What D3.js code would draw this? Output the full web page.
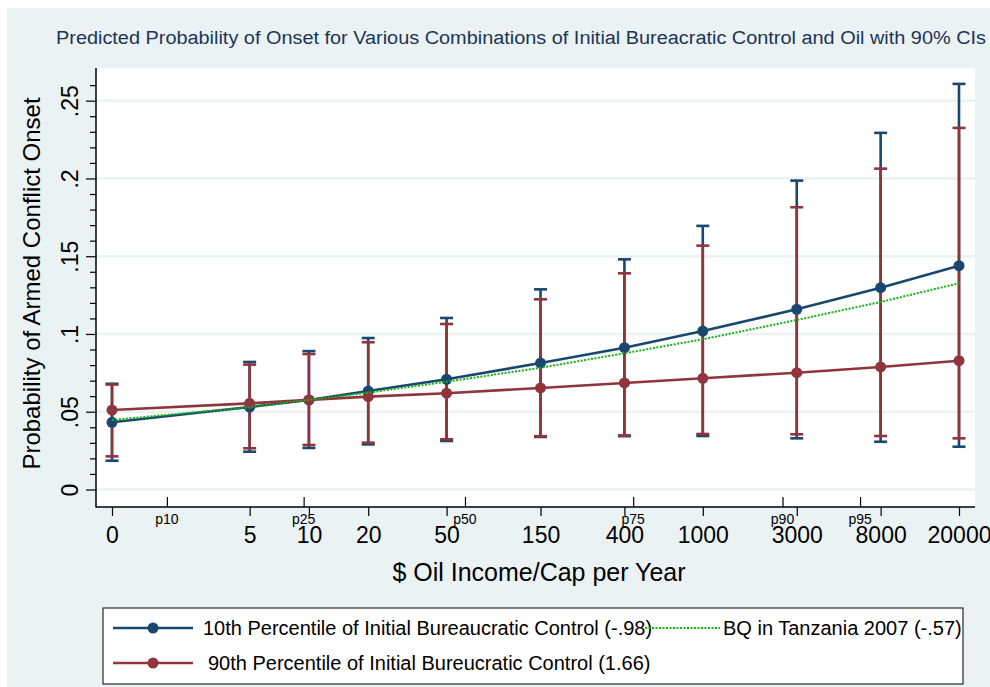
<!DOCTYPE html>
<html>
<head>
<meta charset="utf-8">
<script src="https://cdn.jsdelivr.net/npm/d3@7"></script>
<style>
  body { margin: 0; background: #fff; }
  svg text { font-family: "Liberation Sans", Arial, sans-serif; }
</style>
</head>
<body>
<div id="chart"></div>
<script>
// oil income levels (x categories); Stata plots ln(oil), with 0 drawn at ln(1)
const oilValues = [0, 5, 10, 20, 50, 150, 400, 1000, 3000, 8000, 20000]
const oilLabels = ["0", "5", "10", "20", "50", "150", "400", "1000", "3000", "8000", "20000"]

// 10th percentile of initial bureaucratic control
const lowBQ = [0.0432, 0.053, 0.0576, 0.0633, 0.0709, 0.0813, 0.0912, 0.1019, 0.1159, 0.1298, 0.1439]
const lowBQUpper = [0.068, 0.082, 0.089, 0.0974, 0.1103, 0.1287, 0.148, 0.1695, 0.1986, 0.2293, 0.2608]
const lowBQLower = [0.0185, 0.0243, 0.0267, 0.029, 0.0312, 0.0338, 0.0343, 0.0344, 0.0329, 0.0307, 0.0275]

// 90th percentile of initial bureaucratic control
const highBQ = [0.0511, 0.0554, 0.0576, 0.0597, 0.0619, 0.0653, 0.0685, 0.0715, 0.0751, 0.0788, 0.0828]
const highBQUpper = [0.0675, 0.0803, 0.0871, 0.0947, 0.1064, 0.1223, 0.139, 0.1568, 0.1815, 0.2063, 0.2325]
const highBQLower = [0.0213, 0.0265, 0.0286, 0.0301, 0.0323, 0.0343, 0.0348, 0.0357, 0.0355, 0.0344, 0.0329]

// BQ in Tanzania 2007
const tanzania = [0.0447, 0.0529, 0.0576, 0.0623, 0.0693, 0.0783, 0.0876, 0.0966, 0.109, 0.1206, 0.1326]

// percentile markers of oil income along the x axis
const pctValues = [1.9, 9.4, 62, 443, 2540, 6290]
const pctLabels = ["p10", "p25", "p50", "p75", "p90", "p95"]

const yTicks = [0, 0.05, 0.1, 0.15, 0.2, 0.25]
const yTickLabels = ["0", ".05", ".1", ".15", ".2", ".25"]
const yMinorTicks = d3.range(1, 27).map(d => d / 100).filter(d => d % 0.05 > 0.001 && d % 0.05 < 0.049)

const legendLabels = [
  "10th Percentile of Initial Bureaucratic Control (-.98)",
  "90th Percentile of Initial Bureucratic Control (1.66)",
  "BQ in Tanzania 2007 (-.57)",
]

const W = 990, H = 687
const PLOT = { left: 96, right: 975, top: 68, bottom: 507 }
const BLUE = "#1a476f", RED = "#90353b", GREEN = "#12b312", BG = "#eaf2f3"

const svg = d3.select("#chart").append("svg")
  .attr("width", W).attr("height", H)

svg.append("rect").attr("x", 7).attr("y", 8).attr("width", W - 7).attr("height", H - 8).attr("fill", BG)
svg.append("rect")
  .attr("x", PLOT.left).attr("y", PLOT.top)
  .attr("width", PLOT.right - PLOT.left).attr("height", PLOT.bottom - PLOT.top)
  .attr("fill", "#fff")

// SCALES ----------------------
const xScale = d3.scaleLog().domain([1, 20000]).range([112, 959])
const xPos = v => xScale(Math.max(v, 1))
const yScale = d3.scaleLinear().domain([0, 0.25]).range([489.5, 100.7])

// grid
svg.append("g").selectAll("line").data(yTicks).join("line")
  .attr("x1", PLOT.left).attr("x2", PLOT.right)
  .attr("y1", d => yScale(d)).attr("y2", d => yScale(d))
  .attr("stroke", BG).attr("stroke-width", 2.5)

// AXES ------------------------
const gY = svg.append("g").attr("transform", `translate(${PLOT.left},0)`)
gY.call(d3.axisLeft(yScale).tickValues(yMinorTicks).tickSize(6).tickFormat(""))
gY.call(g => g.select(".domain").remove())
const gYMajor = svg.append("g").attr("transform", `translate(${PLOT.left},0)`)
gYMajor.call(d3.axisLeft(yScale).tickValues(yTicks).tickSize(10).tickPadding(0)
  .tickFormat((d, i) => yTickLabels[i]))
gYMajor.select(".domain").remove()
gYMajor.selectAll("text")
  .attr("transform", "translate(-18,0) rotate(-90)")
  .attr("x", 0).attr("y", 0).attr("dy", 0)
  .attr("text-anchor", "middle")
  .style("font-size", "23px").attr("fill", "#000")
svg.selectAll(".tick line").attr("stroke", "#000").attr("stroke-width", 1.2)

const gX = svg.append("g").attr("transform", `translate(0,${PLOT.bottom})`)
gX.call(d3.axisBottom(xScale).tickValues(oilValues.map(v => Math.max(v, 1)))
  .tickSize(9).tickPadding(0).tickFormat((d, i) => oilLabels[i]))
gX.select(".domain").remove()
gX.selectAll("text").attr("y", 36).attr("dy", 0)
  .style("font-size", "23px").attr("fill", "#000")
gX.selectAll(".tick line").attr("stroke", "#000").attr("stroke-width", 1.2)

const gP = svg.append("g").attr("transform", `translate(0,${PLOT.bottom})`)
gP.call(d3.axisTop(xScale).tickValues(pctValues).tickSize(10).tickFormat(""))
gP.select(".domain").remove()
gP.selectAll(".tick line").attr("stroke", "#000").attr("stroke-width", 1.2)
gP.selectAll(".plabel").data(pctValues).join("text")
  .attr("class", "plabel")
  .attr("x", d => xScale(d)).attr("y", 17)
  .attr("text-anchor", "middle")
  .style("font-size", "14px").attr("fill", "#000")
  .text((d, i) => pctLabels[i])

// axis lines
svg.append("line").attr("x1", PLOT.left).attr("x2", PLOT.left)
  .attr("y1", PLOT.top).attr("y2", PLOT.bottom + 0.5)
  .attr("stroke", "#000").attr("stroke-width", 1.5)
svg.append("line").attr("x1", PLOT.left).attr("x2", PLOT.right)
  .attr("y1", PLOT.bottom).attr("y2", PLOT.bottom)
  .attr("stroke", "#000").attr("stroke-width", 1.5)

// CONFIDENCE INTERVALS ---------
const drawCaps = (lower, upper, color) => {
  const g = svg.append("g").attr("stroke", color).attr("stroke-width", 2.6).attr("fill", "none")
  oilValues.forEach((v, i) => {
    const x = xPos(v)
    g.append("line").attr("x1", x).attr("x2", x)
      .attr("y1", yScale(lower[i])).attr("y2", yScale(upper[i]))
    ;[lower[i], upper[i]].forEach(c => {
      g.append("line").attr("x1", x - 6.5).attr("x2", x + 6.5)
        .attr("y1", yScale(c)).attr("y2", yScale(c))
    })
  })
}
drawCaps(lowBQLower, lowBQUpper, BLUE)
drawCaps(highBQLower, highBQUpper, RED)

// LINES -----------------------
const line = d3.line().x((d, i) => xPos(oilValues[i])).y(d => yScale(d))
const drawSeries = (vals, color) => {
  svg.append("path").datum(vals).attr("d", line)
    .attr("fill", "none").attr("stroke", color).attr("stroke-width", 2.6)
  svg.append("g").selectAll("circle").data(vals).join("circle")
    .attr("cx", (d, i) => xPos(oilValues[i])).attr("cy", d => yScale(d))
    .attr("r", 5.5).attr("fill", color)
}
drawSeries(lowBQ, BLUE)
drawSeries(highBQ, RED)
svg.append("path").datum(tanzania).attr("d", line)
  .attr("fill", "none").attr("stroke", GREEN).attr("stroke-width", 2)
  .attr("stroke-dasharray", "2,1.5")

// TEXTS -----------------------
svg.append("text")
  .attr("x", 521).attr("y", 44).attr("text-anchor", "middle")
  .attr("textLength", 930).attr("lengthAdjust", "spacingAndGlyphs")
  .style("font-size", "18px").attr("fill", "#1c3557")
  .text("Predicted Probability of Onset for Various Combinations of Initial Bureacratic Control and Oil with 90% CIs")

svg.append("text")
  .attr("x", 539).attr("y", 581).attr("text-anchor", "middle")
  .style("font-size", "25px").attr("fill", "#000")
  .text("$ Oil Income/Cap per Year")

svg.append("text")
  .attr("transform", `translate(40,${(PLOT.top + PLOT.bottom) / 2 - 4}) rotate(-90)`)
  .attr("text-anchor", "middle")
  .style("font-size", "24px").attr("fill", "#000")
  .text("Probability of Armed Conflict Onset")

// LEGEND ----------------------
const legend = svg.append("g")
legend.append("rect").attr("x", 103).attr("y", 608).attr("width", 860).attr("height", 76)
  .attr("fill", "#fff").attr("stroke", "#000").attr("stroke-width", 1)
const rows = [
  { color: BLUE, y: 628, tx: 203 },
  { color: RED, y: 663, tx: 208 },
]
rows.forEach((r, i) => {
  legend.append("line").attr("x1", 113).attr("x2", 193).attr("y1", r.y).attr("y2", r.y)
    .attr("stroke", r.color).attr("stroke-width", 2.6)
  legend.append("circle").attr("cx", 153).attr("cy", r.y).attr("r", 5.5).attr("fill", r.color)
  legend.append("text").attr("x", r.tx).attr("y", r.y + 7)
    .style("font-size", "20px").attr("fill", "#000").text(legendLabels[i])
})
legend.append("line").attr("x1", 645).attr("x2", 720).attr("y1", 628).attr("y2", 628)
  .attr("stroke", GREEN).attr("stroke-width", 2).attr("stroke-dasharray", "2,1.5")
legend.append("text").attr("x", 723).attr("y", 635)
  .style("font-size", "20px").attr("fill", "#000").text(legendLabels[2])
</script>
</body>
</html>
